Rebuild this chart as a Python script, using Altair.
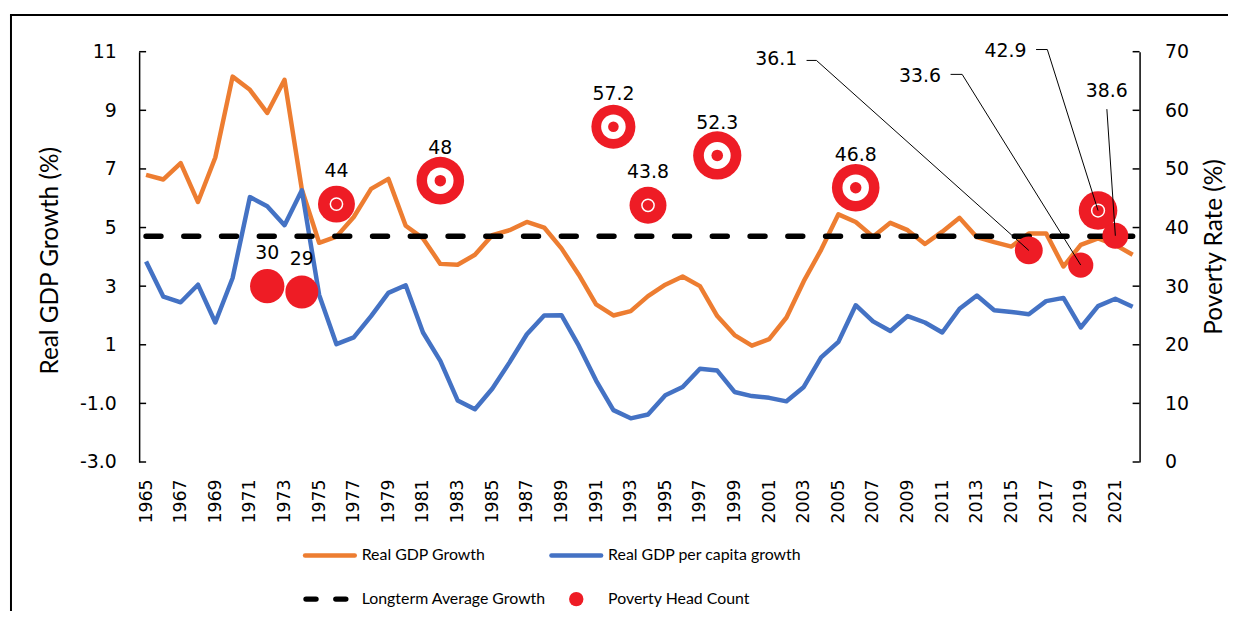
import altair as alt
import pandas as pd

# ---------------- data ----------------
years = list(range(1965, 2023))
gdp_growth = [6.80, 6.64, 7.20, 5.87, 7.39, 10.15, 9.70, 8.91, 10.04, 6.30,
              4.48, 4.69, 5.36, 6.32, 6.66, 5.06, 4.63, 3.76, 3.73, 4.07,
              4.74, 4.91, 5.19, 5.00, 4.29, 3.39, 2.38, 2.00, 2.15, 2.66,
              3.05, 3.33, 3.00, 1.98, 1.33, 0.97, 1.19, 1.93, 3.17, 4.24,
              5.45, 5.19, 4.69, 5.16, 4.91, 4.44, 4.86, 5.33, 4.67, 4.50,
              4.35, 4.80, 4.80, 3.67, 4.41, 4.63, 4.41, 4.07]
gdp_pc_growth = [3.84, 2.64, 2.45, 3.05, 1.76, 3.28, 6.04, 5.73, 5.08, 6.27,
                 2.70, 1.02, 1.25, 1.98, 2.77, 3.03, 1.42, 0.45, -0.90, -1.20,
                 -0.50, 0.40, 1.36, 2.00, 2.01, 0.97, -0.22, -1.23, -1.51, -1.38,
                 -0.72, -0.44, 0.18, 0.12, -0.61, -0.75, -0.81, -0.93, -0.44, 0.57,
                 1.10, 2.35, 1.80, 1.47, 1.98, 1.76, 1.42, 2.23, 2.68, 2.18,
                 2.12, 2.04, 2.49, 2.60, 1.59, 2.32, 2.57, 2.30]
longterm_avg = 4.7

pov_years = [1972, 1974, 1976, 1982, 1992, 1994, 1998, 2006, 2016, 2019, 2020, 2021]
pov_rates = [30, 29, 44, 48, 57.2, 43.8, 52.3, 46.8, 36.1, 33.6, 42.9, 38.6]
pov_bubble = [38, 35, 44, 73, 62.5, 44, 75, 73, 25, 20.5, 48, 21.5]
pov_label_kind = ["above"] * 8 + ["callout"] * 4

# callout labels (data-space anchors on the poverty axis)
callout_years = [2016, 2019, 2020, 2021]
callout_text_x = [2001.41, 2009.71, 2014.66, 2020.51]
callout_text_y = [68.68, 65.85, 70.08, 63.30]
leader_start_x = [2003.16, 2011.48, 2016.42, 2020.51]
leader_start_y = [68.51, 66.13, 70.37, 60.20]
leader_elbow_x = [2003.73, 2012.15, 2017.07, 2020.51]

left_ticks = [-3, -1, 1, 3, 5, 7, 9, 11]
right_ticks = [0, 10, 20, 30, 40, 50, 60, 70]
x_label_years = list(range(1965, 2022, 2))

# ---------------- tables ----------------
df = pd.DataFrame({"year": years, "gdp": gdp_growth, "gdppc": gdp_pc_growth,
                   "avg": [longterm_avg] * len(years)})
pov = pd.DataFrame({"year": pov_years, "rate": pov_rates, "size": pov_bubble,
                    "kind": pov_label_kind})
pov["lbl"] = [("%g" % r) for r in pov_rates]
rate_of = dict(zip(pov_years, pov_rates))
call = pd.DataFrame({"year": callout_text_x, "cy": callout_text_y,
                     "lbl": [("%g" % rate_of[y]) for y in callout_years]})
lead_rows = []
for i, yr in enumerate(callout_years):
    lead_rows.append({"id": i, "o": 0, "year": leader_start_x[i], "ly": leader_start_y[i]})
    lead_rows.append({"id": i, "o": 1, "year": leader_elbow_x[i], "ly": leader_start_y[i]})
    lead_rows.append({"id": i, "o": 2, "year": yr, "ly": rate_of[yr]})
lead = pd.DataFrame(lead_rows)
lt = pd.DataFrame({"v": left_ticks})
rt = pd.DataFrame({"v": right_ticks})
one = pd.DataFrame({"a": [0]})

ORANGE = "#ED7D31"
BLUE = "#4472C4"
RED = "#EE1C25"
NUMFONT = "DejaVu Sans"
TXTFONT = "Lato"

W, H = 1007, 413
PAD = {"left": 132, "top": 42, "right": 89, "bottom": 150}

xscale = alt.Scale(domain=[1964.6, 2022.4], nice=False, zero=False)
yl = alt.Scale(domain=[-3, 11], nice=False, zero=False)
yr = alt.Scale(domain=[0, 70], nice=False, zero=False)
sscale = alt.Scale(domain=[0, 100], range=[0, 3142])

x_axis = alt.Axis(values=x_label_years, labelExpr="'' + datum.value", labelAngle=270,
                  labelAlign="right", labelBaseline="middle", labelPadding=17,
                  labelFont=NUMFONT, labelFontSize=17.5, labelColor="black", ticks=False,
                  domain=False, grid=False, title="", labelOverlap=False, labelFlush=False)
left_axis = alt.Axis(orient="left", values=left_ticks,
                     labelExpr="datum.value < 0 ? datum.value + '.0' : '' + datum.value",
                     labelFont=NUMFONT, labelFontSize=19, labelColor="black", labelPadding=23,
                     ticks=False, domainColor="black", domainWidth=1.5, grid=False,
                     title="Real GDP Growth (%)", titleFont=TXTFONT, titleFontSize=24.5,
                     titleFontWeight="normal", titleColor="black", titleAngle=270,
                     titleX=-89, titleY=210, titleAlign="center", titleBaseline="middle")
right_axis = alt.Axis(orient="right", values=right_ticks, labelExpr="'' + datum.value",
                      labelFont=NUMFONT, labelFontSize=19, labelColor="black", labelPadding=25,
                      ticks=False, domainColor="black", domainWidth=1.5, grid=False,
                      title="Poverty Rate (%)", titleFont=TXTFONT, titleFontSize=24.5,
                      titleFontWeight="normal", titleColor="black", titleAngle=270,
                      titleX=75, titleY=196, titleAlign="center", titleBaseline="middle")

X = alt.X("year:Q", scale=xscale, axis=x_axis)

# ---------------- left-axis series ----------------
orange = alt.Chart(df).mark_line(color=ORANGE, strokeWidth=4.5, strokeJoin="round").encode(
    x=X, y=alt.Y("gdp:Q", scale=yl, axis=left_axis))
blue = alt.Chart(df).mark_line(color=BLUE, strokeWidth=4.5, strokeJoin="round").encode(
    x=X, y=alt.Y("gdppc:Q", scale=yl, axis=None))
dashed = alt.Chart(df).mark_line(color="black", strokeWidth=5.5, strokeDash=[15, 23],
                                 strokeCap="round").encode(
    x=X, y=alt.Y("avg:Q", scale=yl, axis=None))
lticks = alt.Chart(lt).mark_rule(color="black", strokeWidth=1.5).encode(
    y=alt.Y("v:Q", scale=yl, axis=None), x=alt.value(0), x2=alt.value(7))

# ---------------- right-axis series ----------------
bubbles = alt.Chart(pov).mark_circle(color=RED, opacity=1).encode(
    x=X, y=alt.Y("rate:Q", scale=yr, axis=right_axis),
    size=alt.Size("size:Q", scale=sscale, legend=None))
white_disc = alt.Chart(pov).transform_filter("datum.size >= 60").transform_calculate(
    ws="datum.size * 0.31").mark_circle(color="white", opacity=1).encode(
    x=X, y=alt.Y("rate:Q", scale=yr, axis=None),
    size=alt.Size("ws:Q", scale=sscale, legend=None))
red_dot = alt.Chart(pov).transform_filter("datum.size >= 60").transform_calculate(
    ds="datum.size * 0.058").mark_circle(color=RED, opacity=1).encode(
    x=X, y=alt.Y("rate:Q", scale=yr, axis=None),
    size=alt.Size("ds:Q", scale=sscale, legend=None))
thin_ring = alt.Chart(pov).transform_filter("datum.size >= 40 && datum.size < 60").transform_calculate(
    ts="datum.size * 0.11").mark_point(shape="circle", filled=False, color="white",
                                       strokeWidth=1.5, opacity=1).encode(
    x=X, y=alt.Y("rate:Q", scale=yr, axis=None),
    size=alt.Size("ts:Q", scale=sscale, legend=None))
leaders = alt.Chart(lead).mark_line(color="black", strokeWidth=1).encode(
    x=X, y=alt.Y("ly:Q", scale=yr, axis=None),
    detail="id:N", order="o:Q")
above_labels = alt.Chart(pov).transform_filter("datum.kind == 'above'").mark_text(
    font=NUMFONT, fontSize=19, color="black", dy=-33, baseline="middle").encode(
    x=X, y=alt.Y("rate:Q", scale=yr, axis=None), text="lbl:N")
callout_labels = alt.Chart(call).mark_text(
    font=NUMFONT, fontSize=19, color="black", baseline="middle").encode(
    x=X, y=alt.Y("cy:Q", scale=yr, axis=None), text="lbl:N")
rticks = alt.Chart(rt).mark_rule(color="black", strokeWidth=1.5).encode(
    y=alt.Y("v:Q", scale=yr, axis=None), x=alt.value(W - 7), x2=alt.value(W))

# ---------------- legend & frame ----------------
LY1, LY2 = 507, 551
leg = [
    alt.Chart(one).mark_rule(color=ORANGE, strokeWidth=4.5, strokeCap="round").encode(
        x=alt.value(167), x2=alt.value(217), y=alt.value(LY1)),
    alt.Chart(one).mark_text(text="Real GDP Growth", align="left", baseline="middle",
                             font=TXTFONT, fontSize=16, color="black").encode(
        x=alt.value(224), y=alt.value(LY1)),
    alt.Chart(one).mark_rule(color=BLUE, strokeWidth=4.5, strokeCap="round").encode(
        x=alt.value(415), x2=alt.value(465), y=alt.value(LY1)),
    alt.Chart(one).mark_text(text="Real GDP per capita growth", align="left", baseline="middle",
                             font=TXTFONT, fontSize=16, color="black").encode(
        x=alt.value(472), y=alt.value(LY1)),
    alt.Chart(one).mark_rule(color="black", strokeWidth=5.5, strokeCap="round",
                             strokeDash=[10, 20]).encode(
        x=alt.value(168), x2=alt.value(208), y=alt.value(LY2)),
    alt.Chart(one).mark_text(text="Longterm Average Growth", align="left", baseline="middle",
                             font=TXTFONT, fontSize=16, color="black").encode(
        x=alt.value(224), y=alt.value(LY2)),
    alt.Chart(one).mark_circle(color=RED, opacity=1, size=210).encode(
        x=alt.value(440), y=alt.value(LY2)),
    alt.Chart(one).mark_text(text="Poverty Head Count", align="left", baseline="middle",
                             font=TXTFONT, fontSize=16, color="black").encode(
        x=alt.value(472), y=alt.value(LY2)),
    # outer chart frame (left and top edges)
    alt.Chart(one).mark_rule(color="black", strokeWidth=2).encode(
        x=alt.value(-129), y=alt.value(-37), y2=alt.value(H + PAD["bottom"])),
    alt.Chart(one).mark_rule(color="black", strokeWidth=2).encode(
        x=alt.value(-130), x2=alt.value(W + PAD["right"]), y=alt.value(-37)),
]

chart = alt.layer(orange, blue, dashed, lticks,
                  bubbles, white_disc, red_dot, thin_ring, leaders,
                  above_labels, callout_labels, rticks, *leg).resolve_scale(
    y="independent").properties(
    width=W, height=H,
    background="white",
    autosize=alt.AutoSizeParams(type="none"),
    padding=PAD,
).configure_view(stroke=None)

chart.save("out.html", embed_options={"renderer": "svg", "actions": False})
